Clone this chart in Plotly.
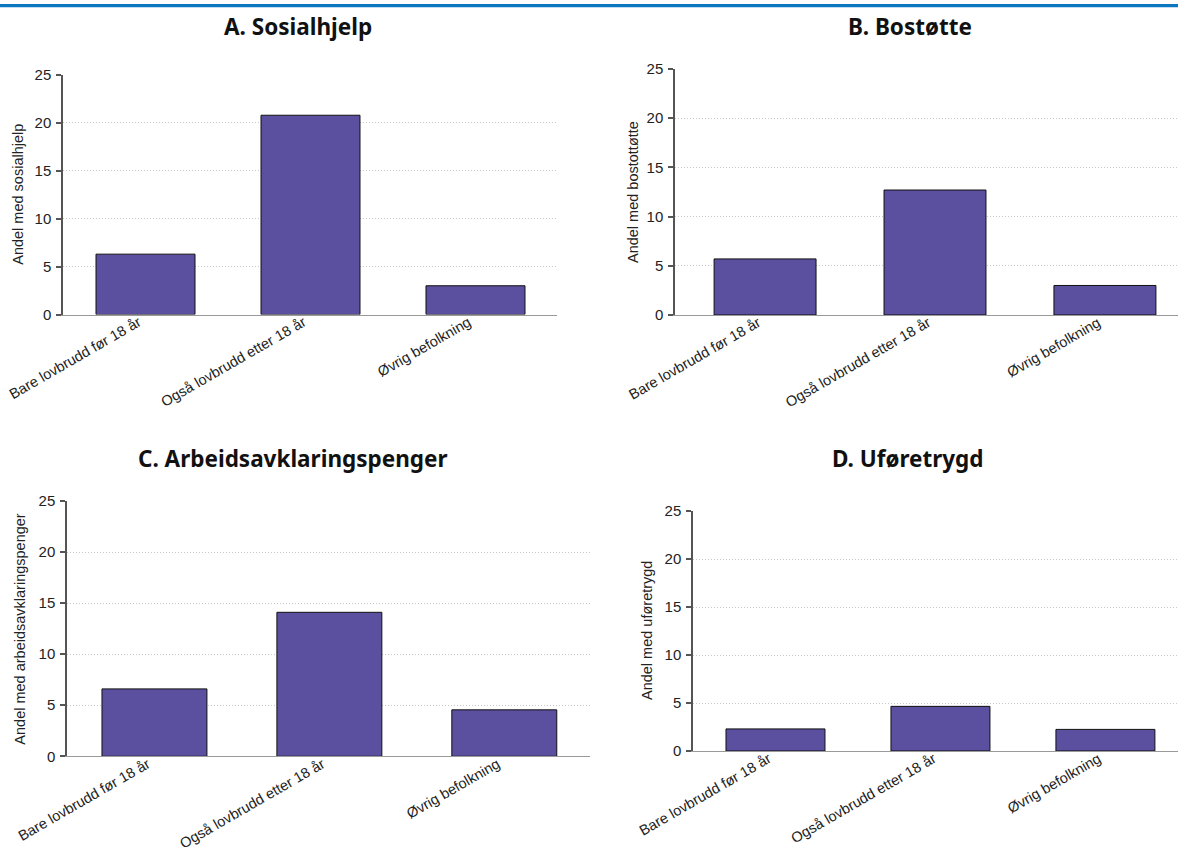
import plotly.graph_objects as go

# ---- data ----
categories = ["Bare lovbrudd før 18 år", "Også lovbrudd etter 18 år", "Øvrig befolkning"]
sosialhjelp = [6.3, 20.8, 3.0]
bostotte = [5.7, 12.7, 3.0]
arbeidsavklaringspenger = [6.6, 14.1, 4.55]
uforetrygd = [2.3, 4.65, 2.25]
y_ticks = [0, 5, 10, 15, 20, 25]

panel_titles = ["A. Sosialhjelp", "B. Bostøtte", "C. Arbeidsavklaringspenger", "D. Uføretrygd"]
y_titles = ["Andel med sosialhjelp", "Andel med bostottøtte",
            "Andel med arbeidsavklaringspenger", "Andel med uføretrygd"]
series = [sosialhjelp, bostotte, arbeidsavklaringspenger, uforetrygd]

# ---- layout geometry (pixels) ----
W, H = 1178, 855
geom = [
    dict(x0=63, x1=557, ytop=75, ybot=314.5, xmin=-0.5, xmax=2.494, tx=298, ty=27, ytx=18),
    dict(x0=675, x1=1178, ytop=69, ybot=315, xmin=-0.53, xmax=2.43, tx=910, ty=27, ytx=633),
    dict(x0=67, x1=590, ytop=501, ybot=756.3, xmin=-0.5, xmax=2.49, tx=293, ty=458, ytx=20),
    dict(x0=693, x1=1178, ytop=511, ybot=751, xmin=-0.5, xmax=2.44, tx=908, ty=458, ytx=647),
]

BAR_COLOR = "#5b4f9f"
TICK_FONT = dict(family="Liberation Sans, Arial, sans-serif", size=15, color="#222222")
XTICK_FONT = dict(family="Liberation Sans, Arial, sans-serif", size=14.5, color="#222222")

fig = go.Figure()
annotations = []
layout = {}

for i, (vals, g) in enumerate(zip(series, geom)):
    n = "" if i == 0 else str(i + 1)
    fig.add_trace(go.Bar(
        x=categories, y=vals, width=0.6,
        marker=dict(color=BAR_COLOR, line=dict(color="#111111", width=1)),
        xaxis="x" + n, yaxis="y" + n, hoverinfo="x+y",
    ))
    xd = [g["x0"] / W, min(g["x1"] / W, 1.0)]
    yd = [1 - g["ybot"] / H, 1 - g["ytop"] / H]
    layout["xaxis" + n] = dict(
        domain=xd, anchor="y" + n, type="category",
        range=[g["xmin"], g["xmax"]], automargin=False,
        showline=True, linecolor="#9a9a9a", linewidth=1,
        ticks="", tickangle=-30, tickfont=XTICK_FONT,
        ticklabelstandoff=-7, ticklabelshift=-7,
        showgrid=False, zeroline=False, fixedrange=True,
    )
    layout["yaxis" + n] = dict(
        domain=yd, anchor="x" + n, range=[0, 25], automargin=False,
        tickmode="array", tickvals=y_ticks,
        ticks="outside", ticklen=5, tickwidth=1.5, tickcolor="#555555",
        showline=True, linecolor="#555555", linewidth=1.5,
        showgrid=True, gridcolor="#c8c8c8", gridwidth=1, griddash="1px,2px",
        zeroline=False, tickfont=TICK_FONT, ticklabelstandoff=2,
        fixedrange=True,
    )
    annotations.append(dict(
        text=panel_titles[i], xref="paper", yref="paper",
        x=g["tx"] / W, y=1 - g["ty"] / H, xanchor="center", yanchor="middle",
        showarrow=False,
        font=dict(family="Noto Sans, DejaVu Sans, sans-serif", size=22.5, color="#111111", weight="bold"),
    ))
    annotations.append(dict(
        text=y_titles[i], xref="paper", yref="paper",
        x=g["ytx"] / W, y=1 - (g["ytop"] + g["ybot"]) / 2 / H,
        xanchor="center", yanchor="middle", textangle=-90, showarrow=False,
        font=dict(family="Liberation Sans, Arial, sans-serif", size=14.5, color="#222222"),
    ))

fig.update_layout(
    width=W, height=H,
    margin=dict(l=0, r=0, t=0, b=0, autoexpand=False),
    paper_bgcolor="white", plot_bgcolor="white",
    showlegend=False,
    annotations=annotations,
    shapes=[dict(type="rect", xref="paper", yref="paper", x0=0, x1=1,
                 y0=1 - 7.3 / H, y1=1 - 4 / H, fillcolor="#0b77c0", line=dict(width=0))],
    **layout,
)

fig.write_html("out.html", config={"displayModeBar": False},
               post_script="document.body.style.margin='0px';")
